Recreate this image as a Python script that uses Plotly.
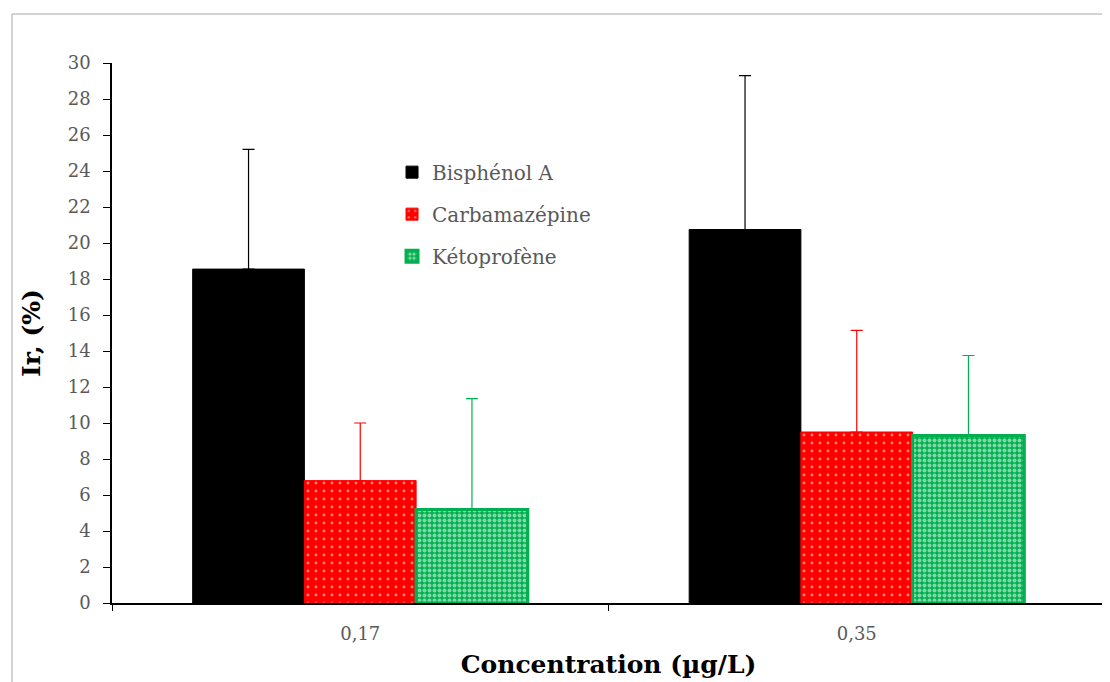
import plotly.graph_objects as go

categories = ["0,17", "0,35"]
bisphenol = [18.55, 20.75]
bisphenol_err = [6.65, 8.55]
carbamazepine = [6.8, 9.5]
carbamazepine_err = [3.2, 5.65]
ketoprofene = [5.2, 9.3]
ketoprofene_err = [6.15, 4.45]
y_ticks = list(range(0, 31, 2))

FONT = "DejaVu Serif"
GREEN = "#00B050"
RED = "#FF0000"

fig = go.Figure()
fig.add_trace(go.Bar(
    name="Bisphénol A", x=categories, y=bisphenol, legendgroup="a",
    marker=dict(color="black", line=dict(color="black", width=1)),
    error_y=dict(type="data", array=bisphenol_err, symmetric=False, arrayminus=[0, 0],
                 color="black", thickness=1.2, width=6)))
fig.add_trace(go.Bar(
    name="Carbamazépine", x=categories, y=carbamazepine, legendgroup="b",
    marker=dict(color=RED, line=dict(color=RED, width=1),
                pattern=dict(shape=".", fgcolor="white", bgcolor=RED, size=8, solidity=0.1)),
    error_y=dict(type="data", array=carbamazepine_err, symmetric=False, arrayminus=[0, 0],
                 color=RED, thickness=1.2, width=6)))
fig.add_trace(go.Bar(
    name="Kétoprofène", x=categories, y=ketoprofene, legendgroup="c",
    marker=dict(color=GREEN, line=dict(color=GREEN, width=3),
                pattern=dict(shape=".", fgcolor="white", bgcolor=GREEN, size=5, solidity=0.5)),
    error_y=dict(type="data", array=ketoprofene_err, symmetric=False, arrayminus=[0, 0],
                 color=GREEN, thickness=1.2, width=6)))

fig.update_layout(
    width=1102, height=674,
    margin=dict(l=104, r=5, t=55, b=79),
    paper_bgcolor="white", plot_bgcolor="white",
    barmode="group", bargap=0.325, bargroupgap=0,
    font=dict(family=FONT, color="#595959", size=18),
    showlegend=True,
    legend=dict(x=0.282, y=0.834, xanchor="left", yanchor="top",
                font=dict(family=FONT, size=20, color="#595959"),
                tracegroupgap=13, bgcolor="rgba(0,0,0,0)", itemwidth=30),
    xaxis=dict(showline=True, linecolor="black", linewidth=1.5,
               ticks="outside", tickson="boundaries", ticklen=6, tickcolor="black",
               ticklabelstandoff=14,
               tickfont=dict(family=FONT, size=18, color="#595959"),
               title=dict(text="<b>Concentration (µg/L)</b>", standoff=12,
                          font=dict(family=FONT, size=25, color="black"))),
    yaxis=dict(range=[0, 30], tickvals=y_ticks, showline=True, linecolor="black", linewidth=1.5,
               ticks="outside", ticklen=7, tickcolor="black", showgrid=False, zeroline=False,
               ticklabelstandoff=9,
               tickfont=dict(family=FONT, size=18, color="#595959"),
               title=dict(text="<b>Ir, (%)</b>", standoff=20,
                          font=dict(family=FONT, size=25, color="black"))),
    shapes=[dict(type="rect", xref="paper", yref="paper",
                 x0=-0.1007, x1=1.2, y0=-0.3, y1=1.0907,
                 line=dict(color="#A6A6A6", width=1), fillcolor="rgba(0,0,0,0)", layer="below")],
)

fig.write_html("out.html")
